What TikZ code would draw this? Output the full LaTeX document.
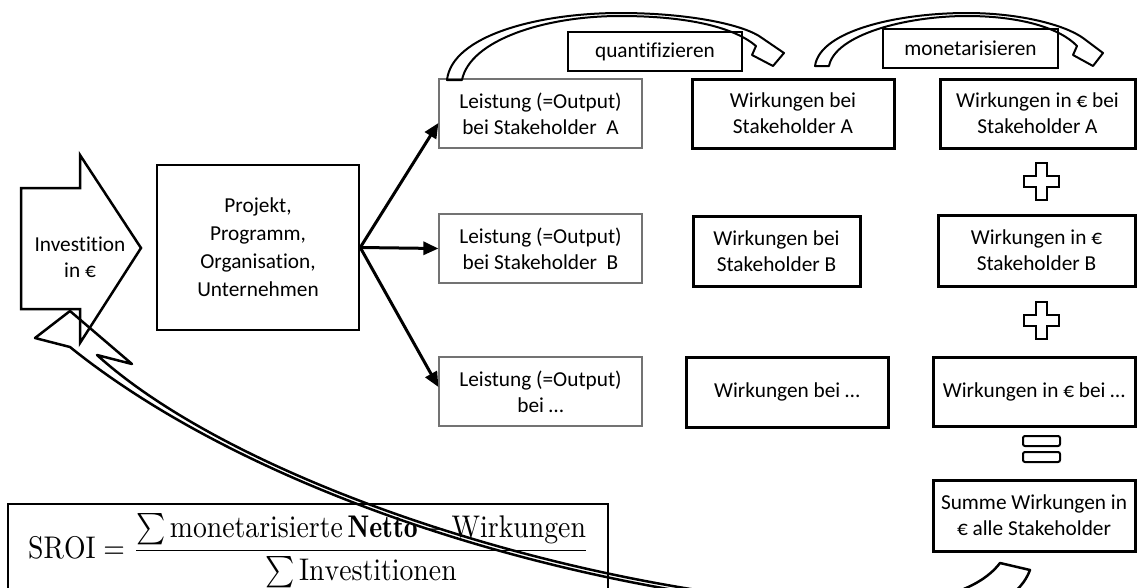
\documentclass[tikz,border=0pt]{standalone}
\usepackage{amsmath}
\usepackage{graphicx}
\usepackage{fontspec}
\newfontfamily\carlito[Ligatures={NoCommon,NoContextual,NoRare}]{Carlito}
\usetikzlibrary{arrows.meta,calc}
\begin{document}
\begin{tikzpicture}[x=1pt,y=-1pt,
  txt/.style={font=\carlito\fontsize{21.3}{26}\selectfont, align=center, text=black, inner sep=0pt},
  lbox/.style={txt, draw=black!55, line width=1.2pt, minimum width=203pt, minimum height=69pt},
  wbox/.style={txt, draw=black, line width=3pt},
  lblbox/.style={txt, draw=black, line width=1.2pt},
  fan/.style={line width=3pt, -{Triangle[length=15pt,width=13pt]}},
  sym/.style={draw=black, line width=2pt, fill=white, line join=miter},
  band/.style={draw=black, line width=2pt, line join=round}
]
\useasboundingbox (0,0) rectangle (1137,587);
\fill[white] (0,0) rectangle (1137,587);

% formula box
\draw[line width=1.5pt] (8,604) -- (8,504) -- (608,504) -- (608,604);
\node[anchor=west, inner sep=0pt] (sroi) at (28,551)
  {\resizebox*{561pt}{74pt}{$\displaystyle\mathrm{SROI}=\frac{\sum\mathrm{monetarisierte}\,\mathbf{Netto}-\mathrm{Wirkungen}}{\sum\mathrm{Investitionen}}$}};

% investition arrow
\draw[line width=2.5pt, fill=white, line join=miter] (21,188) -- (80,188) -- (80,155) -- (141,248) -- (80,343) -- (80,309) -- (21,309) -- cycle;
\node[txt] (inv) at (80,257) {Investition\\in €};

% project box
\node[txt, draw=black, line width=2.5pt, minimum width=202pt, minimum height=165pt,
      font=\carlito\fontsize{21.3}{28}\selectfont] (proj) at (258,247.5)
  {Projekt,\\Programm,\\Organisation,\\Unternehmen};

% Leistung boxes
\node[lbox] (LA) at (540.5,113.5) {Leistung (=Output)\\bei Stakeholder\ \ A};
\node[lbox] (LB) at (540.5,248.5) {Leistung (=Output)\\bei Stakeholder\ \ B};
\node[lbox] (LC) at (540.5,391.5) {Leistung (=Output)\\bei …};

% Wirkungen boxes
\node[wbox, minimum width=202pt, minimum height=69pt] (WA) at (793,113.5) {Wirkungen bei\\Stakeholder A};
\node[wbox, minimum width=167pt, minimum height=70pt] (WB) at (776.5,251) {Wirkungen bei\\Stakeholder B};
\node[wbox, minimum width=202pt, minimum height=70pt] (WC) at (787,392) {Wirkungen bei …};

% right column
\node[wbox, minimum width=195pt, minimum height=69pt] (RA) at (1037.5,113.5) {Wirkungen in € bei\\Stakeholder A};
\node[wbox, minimum width=197pt, minimum height=71pt] (RB) at (1036.5,250.5) {Wirkungen in €\\Stakeholder B};
\node[wbox, minimum width=202pt, minimum height=69pt] (RC) at (1034,391.5) {Wirkungen in € bei …};
\node[wbox, minimum width=202pt, minimum height=71pt] (RS) at (1034,515.5) {Summe Wirkungen in\\€ alle Stakeholder};

% labels
\node[lblbox, minimum width=174pt, minimum height=39pt] (qb) at (655,51.5) {quantifizieren};
\node[lblbox, minimum width=175pt, minimum height=39pt] (mb) at (970.5,48.5) {monetarisieren};

% fan arrows
\draw[fan] (proj.east) -- ($(LA.west)+(0,9.5)$);
\draw[fan] (proj.east) -- (LB.west);
\draw[fan] (proj.east) -- ($(LC.west)+(0,-4.5)$);

% plus and equals
\draw[sym, shift={(1041,181)}] (-5.5,-18.5) -- (5.5,-18.5) -- (5.5,-5.5) -- (17.5,-5.5) -- (17.5,5.5) -- (5.5,5.5) -- (5.5,18.5) -- (-5.5,18.5) -- (-5.5,5.5) -- (-17.5,5.5) -- (-17.5,-5.5) -- (-5.5,-5.5) -- cycle;
\draw[sym, shift={(1041,320)}] (-5.5,-18.5) -- (5.5,-18.5) -- (5.5,-5.5) -- (17.5,-5.5) -- (17.5,5.5) -- (5.5,5.5) -- (5.5,18.5) -- (-5.5,18.5) -- (-5.5,5.5) -- (-17.5,5.5) -- (-17.5,-5.5) -- (-5.5,-5.5) -- cycle;
\draw[sym, rounded corners=2pt] (1023,436) rectangle (1060,446);
\draw[sym, rounded corners=2pt] (1023,452) rectangle (1060,462);

% curved arrow 1 (quantifizieren)
\draw[band] (447,80) .. controls (452,35) and (540,13) .. (620,13)
  .. controls (690,13) and (745,25) .. (762,38) -- (784,53) -- (773,66) -- (752,55) -- (756,46)
  .. controls (735,28) and (690,16) .. (620,16)
  .. controls (545,16) and (470,40) .. (462,80) -- cycle;

% curved arrow 2 (monetarisieren)
\draw[band] (815,66) .. controls (820,30) and (900,13) .. (967,13)
  .. controls (1020,13) and (1065,25) .. (1083,38) -- (1103,53) -- (1093,66) -- (1073,55) -- (1077,46)
  .. controls (1060,28) and (1020,16) .. (967,16)
  .. controls (905,16) and (835,35) .. (829,66) -- cycle;

% big return arrow
\begin{scope}
\clip (0,0) rectangle (1137,587);
\draw[band, line width=2.5pt] (70,311) -- (132,364) -- (97,355)
  .. controls (225,471) and (525,578) .. (800,603)
  .. controls (920,613) and (978,592) .. (1000,563)
  -- (1030,570)
  .. controls (1012,618) and (930,628) .. (800,607)
  .. controls (520,580) and (235,480) .. (70,347)
  -- (35,338) -- cycle;
\end{scope}
\end{tikzpicture}
\end{document}
